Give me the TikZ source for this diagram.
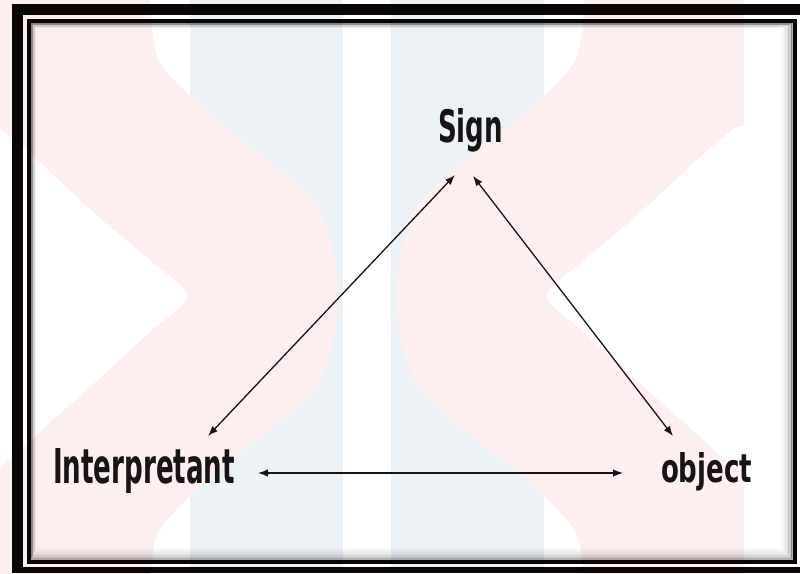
\documentclass[tikz,border=0pt]{standalone}
\usepackage{fontspec}
\usepackage{graphicx}
\setmainfont{DejaVu Sans}
\usetikzlibrary{arrows.meta}
\definecolor{wmpink}{RGB}{253,239,239}
\definecolor{wmblue}{RGB}{237,242,247}
\definecolor{framek}{RGB}{10,6,6}
\definecolor{inkk}{RGB}{22,20,20}
\tikzset{
  lbl/.style={inner sep=0pt, outer sep=0pt, text=inkk, font=\bfseries},
  arr/.style={{Latex[length=10pt,width=7.5pt]}-{Latex[length=10pt,width=7.5pt]}, line width=1.3pt, draw=inkk},
}
\begin{document}
\begin{tikzpicture}[x=1pt,y=-1pt]
\useasboundingbox (0,0) rectangle (800,573);
\fill[white] (0,0) rectangle (800,573);
% watermark: blue stripes
\fill[wmblue] (190,0) rectangle (343,573);
\fill[wmblue] (391,0) rectangle (544,573);
% watermark: left pink chevron
\fill[wmpink] (-10,-10) -- (150,-10) -- plot[smooth] coordinates {(150,0) (157,57) (187,93) (233,133) (283,173) (317,207) (333,250) (337,296) (333,342) (317,385) (283,419) (233,459) (187,499) (157,535) (150,580)} -- (150,590) -- (-10,590) -- (-10,475) -- plot[smooth] coordinates {(0,468) (33,438) (100,378) (150,332) (187,296) (150,260) (100,218) (33,156) (0,128)} -- (-10,125) -- cycle;
% watermark: right pink chevron
\fill[wmpink] (744,-10) -- (584,-10) -- plot[smooth] coordinates {(584,0) (577,57) (547,93) (501,133) (451,173) (417,207) (401,250) (397,296) (401,342) (417,385) (451,419) (501,459) (547,499) (577,535) (584,580)} -- (584,590) -- (744,590) -- (744,475) -- plot[smooth] coordinates {(734,468) (701,438) (634,378) (584,332) (547,296) (584,260) (634,218) (701,156) (734,128)} -- (744,125) -- cycle;
% outer frame
\fill[framek] (12,4) rectangle (800,15);
\fill[framek] (12,4) rectangle (23,573);
\fill[framek] (12,567) rectangle (800,573);
% inner shadow
\foreach \k/\o in {1/0.30,2/0.22,3/0.16,4/0.11,5/0.08,6/0.05,7/0.03,8/0.015}{
  \draw[black, opacity=\o, line width=1.6pt] (31+0.6*\k-0.3,23+0.6*\k-0.3) rectangle (793-1.5*\k+0.75,560-1.6*\k+0.8);
}
% inner frame line
\draw[framek, line width=3.8pt] (29,21) rectangle (795,562);
% labels
\node[lbl, anchor=base west] (sign) at (438,142) {\resizebox{65pt}{34pt}{Sign}};
\node[lbl, anchor=base west] (interp) at (53,483) {\resizebox{182pt}{35pt}{Interpretant}};
\node[lbl, anchor=base west] (obj) at (661,482) {\resizebox{91pt}{30pt}{object}};
% arrow end points near the labels
\coordinate (signL) at (455,175);
\coordinate (signR) at (473,176);
\coordinate (interpT) at (208,436);
\coordinate (interpR) at (258,473);
\coordinate (objT) at (673,436);
\coordinate (objL) at (623,473);
% connectors
\draw[arr] (interpT) -- (signL);
\draw[arr] (signR) -- (objT);
\draw[arr] (interpR) -- (objL);
\end{tikzpicture}
\end{document}
